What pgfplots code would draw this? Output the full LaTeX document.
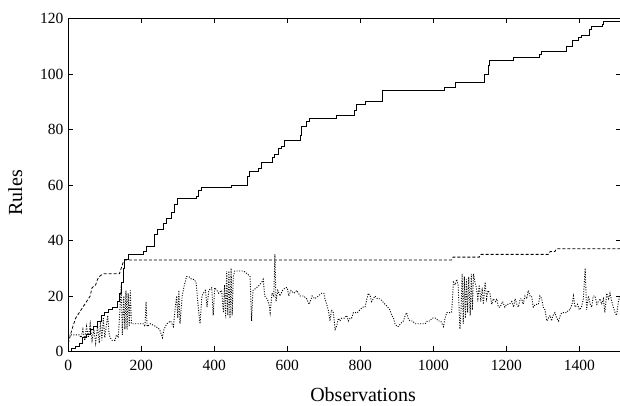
\documentclass[border=0pt]{standalone}
\usepackage{fontspec}
\setmainfont{Liberation Serif}
\usepackage{pgfplots}
\pgfplotsset{compat=1.18}
\begin{document}
\begin{tikzpicture}
\begin{axis}[
  at={(0,0)}, anchor=south west,
  scale only axis, width=553pt, height=333pt,
  xmin=0, xmax=1515, ymin=0, ymax=120,
  xtick={0,200,...,1400}, ytick={0,20,...,120},
  tick align=inside, major tick length=5pt,
  axis line style={line width=1pt}, every tick/.style={line width=0.8pt,black},
  /pgf/number format/assume math mode=true,
  /pgf/number format/1000 sep={},
  tick label style={font=\fontsize{15.5}{18}\selectfont},
  xticklabel style={yshift=-5pt},
  yticklabel style={xshift=-1.5pt},
  label style={font=\fontsize{20}{24}\selectfont},
  xlabel={Observations}, ylabel={Rules},
  xlabel style={at={(axis description cs:0.533,0)}, anchor=base, yshift=-50pt},
  ylabel style={at={(axis description cs:-0.0958,0.477)}, anchor=center},
  clip=true,
]
% solid: number of rules
\addplot[black, line width=0.9pt, const plot] coordinates {
(0,0)(10,1)(20,2)(30,3)(40,5)(50,6)(60,8)(70,9)(80,11)(90,13)(100,14)(110,15)(120,16)(135,18)(140,21)(145,25)(150,30)(155,33)(165,35)(205,36)(215,38)(235,42)(245,44)(260,46)(268,48)(283,50)(290,53)(300,55)(350,56)(357,58)(365,59)(447,60)(490,63)(495,65)(520,66)(528,68)(560,70)(565,71)(577,73)(585,74)(592,76)(635,78)(640,81)(652,83)(660,84)(735,85)(783,87)(790,89)(815,90)(860,94)(1030,95)(1060,97)(1140,100)(1150,103)(1155,105)(1220,106)(1290,107)(1295,108)(1366,110)(1382,112)(1398,113)(1405,114)(1428,116)(1433,117)(1462,118)(1466,119)(1515,119)
};
% dashed
\addplot[black, line width=0.8pt, dash pattern=on 3pt off 2pt] coordinates {
(0,3)(10,8)(20,12)(30,14)(40,16)(50,18)(60,20)(65,23)(75,24)(80,26)(85,27)(95,28)(140,28)(145,30)(150,32)(155,33)(1050,33)(1054,34)(1126,34)(1130,35)(1316,35)(1320,36)(1333,36)(1337,37)(1515,37)
};
% dotted
\addplot[black, line width=0.9pt, dash pattern=on 1pt off 1.5pt] coordinates {
(0,6)(15,6)(30,6)(35,5)(40,8)(45,4)(50,9)(55,5)(60,10)(65,4)(70,8)(75,3)(80,9)(85,3)(88,11)(92,4)(96,12)(100,5)(104,9)(108,13)(112,6)(115,5)(120,4)(128,4)(132,6)(137,5)(141,14)(145,24)(148,6)(152,20)(155,8)(158,22)(161,8)(164,21)(167,9)(170,22)(173,10)(178,10)(190,10)(205,10)(210,9)(213,18)(216,9)(225,10)(240,9)(250,8)(258,5)(262,8)(270,10)(280,11)(288,9)(293,16)(297,20)(300,12)(303,22)(306,10)(312,20)(318,24)(324,27)(330,27)(338,26)(344,26)(350,25)(356,16)(361,10)(366,20)(370,21)(376,22)(380,16)(385,22)(393,23)(397,13)(401,23)(407,22)(412,21)(420,22)(425,14)(428,24)(431,12)(434,29)(437,13)(440,29)(443,12)(446,30)(449,13)(452,27)(456,29)(465,29)(480,29)(490,28)(498,27)(502,11)(506,22)(516,23)(524,24)(530,25)(534,26)(538,20)(545,19)(550,17)(553,14)(558,21)(563,20)(566,35)(569,18)(574,22)(580,20)(587,22)(594,23)(600,23)(604,20)(610,22)(618,21)(626,22)(635,20)(645,20)(653,19)(660,17)(668,20)(675,19)(685,20)(694,21)(700,21)(703,19)(708,17)(712,15)(717,11)(721,15)(726,14)(731,8)(735,9)(740,12)(744,11)(749,12)(756,12)(763,13)(767,11)(772,12)(776,12)(781,14)(786,14)(792,14)(799,15)(806,16)(813,16)(818,19)(822,21)(827,20)(831,18)(836,19)(840,20)(847,19)(854,19)(861,18)(868,17)(875,16)(881,15)(886,13)(891,12)(895,10)(900,9)(904,9)(910,10)(918,11)(923,13)(927,14)(931,12)(936,11)(943,11)(950,10)(957,10)(964,10)(970,10)(977,10)(984,11)(991,11)(996,12)(1000,12)(1007,12)(1014,11)(1020,11)(1028,9)(1032,12)(1037,14)(1044,14)(1050,14)(1053,20)(1055,25)(1060,24)(1064,26)(1068,24)(1073,8)(1076,15)(1079,28)(1082,10)(1085,27)(1088,12)(1091,26)(1094,14)(1097,27)(1101,13)(1104,28)(1107,15)(1110,28)(1114,25)(1118,23)(1122,19)(1126,24)(1130,18)(1134,23)(1137,17)(1142,25)(1146,19)(1150,22)(1155,21)(1160,17)(1164,19)(1170,18)(1174,19)(1178,16)(1183,16)(1190,18)(1196,16)(1201,17)(1208,17)(1215,18)(1220,16)(1224,19)(1229,17)(1233,16)(1238,19)(1242,19)(1246,17)(1251,20)(1256,19)(1260,22)(1265,20)(1269,20)(1274,16)(1280,17)(1288,17)(1292,20)(1297,19)(1301,16)(1306,15)(1311,11)(1315,12)(1320,13)(1324,11)(1328,13)(1333,14)(1338,12)(1343,11)(1348,13)(1352,14)(1358,14)(1365,14)(1370,15)(1374,15)(1380,17)(1384,20)(1388,16)(1395,17)(1400,15)(1406,16)(1411,19)(1416,30)(1420,15)(1425,20)(1430,17)(1434,16)(1438,20)(1443,20)(1448,17)(1452,18)(1457,19)(1461,17)(1466,19)(1470,14)(1475,21)(1480,19)(1484,21)(1489,18)(1493,16)(1498,14)(1502,13)(1507,18)(1511,20)(1515,19)
};
\end{axis}
\pgfresetboundingbox
\useasboundingbox (-68.3pt,-54.5pt) rectangle (551.7pt,351.5pt);
\end{tikzpicture}
\end{document}
